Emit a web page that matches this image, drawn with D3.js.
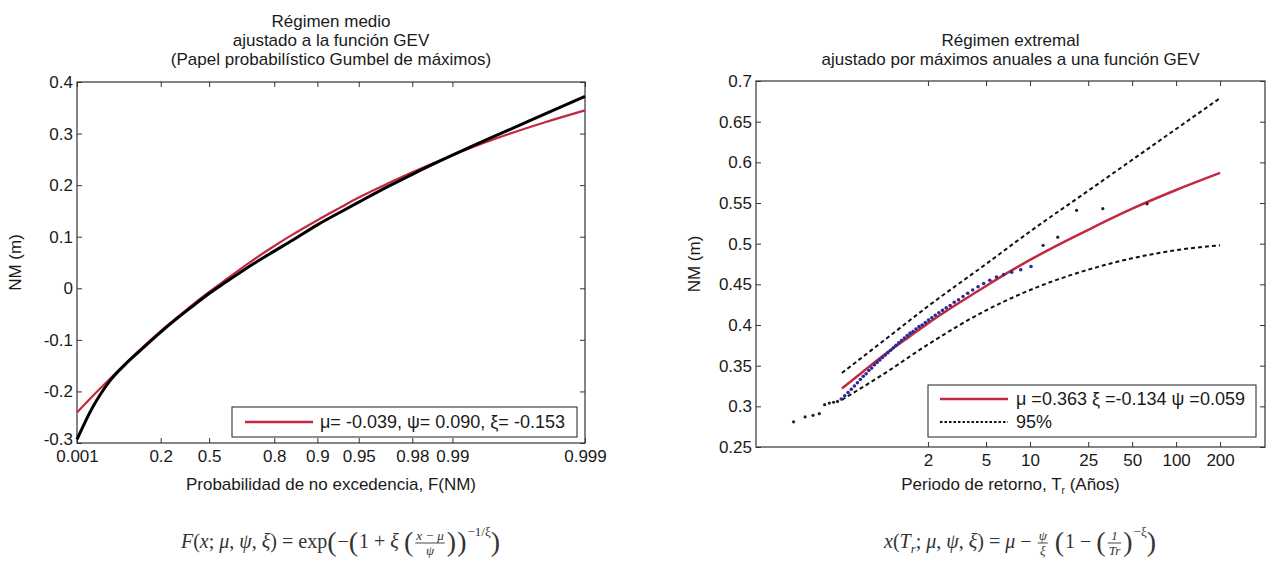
<!DOCTYPE html>
<html><head><meta charset="utf-8">
<script src="https://cdn.jsdelivr.net/npm/d3@7"></script>
<style>
body{margin:0;background:#fff}
.sans{font-family:"Liberation Sans",Arial,Helvetica,sans-serif;fill:#1a1a1a}
.serif{font-family:"Liberation Serif","DejaVu Serif",serif;fill:#333}
</style></head>
<body><svg id="chart" width="1269" height="569"></svg>
<script>
// ---------- DATA : left panel (medium regime, Gumbel probability paper) ----------
const probF   = [0.001,0.005,0.01,0.02,0.05,0.1,0.2,0.3,0.4,0.5,0.6,0.7,0.8,0.85,0.9,0.93,0.95,0.97,0.98,0.99,0.995,0.998,0.999];
const gevFitNM = [-0.241,-0.210,-0.194,-0.176,-0.147,-0.119,-0.083,-0.056,-0.031,-0.007,0.018,0.047,0.082,0.104,0.132,0.155,0.176,0.204,0.225,0.258,0.288,0.322,0.345];
const empiricalNM = [-0.293,-0.232,-0.206,-0.180,-0.148,-0.121,-0.085,-0.058,-0.034,-0.010,0.013,0.040,0.072,0.093,0.123,0.146,0.167,0.198,0.221,0.258,0.293,0.338,0.372];
const leftXTicks  = [0.001,0.2,0.5,0.8,0.9,0.95,0.98,0.99,0.999];
const leftXLabels = ["0.001","0.2","0.5","0.8","0.9","0.95","0.98","0.99","0.999"];
const leftYTicks  = [0.4,0.3,0.2,0.1,0,-0.1,-0.2,-0.3];
const leftYLabels = ["0.4","0.3","0.2","0.1","0","-0.1","-0.2","-0.3"];
const leftTitle   = ["Régimen medio","ajustado a la función GEV","(Papel probabilístico Gumbel de máximos)"];
const leftXTitle  = "Probabilidad de no excedencia, F(NM)";
const leftLegend  = "\u03bc= -0.039, \u03c8= 0.090, \u03be= -0.153";

// ---------- DATA : right panel (extreme regime, annual maxima) ----------
const fitT   = [0.515,0.7,1,1.5,2,3,5,7,10,15,25,50,100,200];
const fitNM  = [0.322,0.341,0.363,0.386,0.402,0.423,0.448,0.464,0.480,0.497,0.517,0.543,0.566,0.587];
const bandT  = [0.515,1,2,5,10,25,50,100,200];
const upperNM = [0.341,0.381,0.423,0.475,0.515,0.565,0.603,0.641,0.679];
const lowerNM = [0.308,0.340,0.376,0.418,0.443,0.468,0.482,0.492,0.498];
const tailT  = [0.2404,0.2885,0.3268,0.3607,0.3922,0.4225,0.4519,0.4809,12.285,15.48,20.83,31.5,63.3];
const tailNM = [0.281,0.287,0.289,0.291,0.302,0.304,0.305,0.306,0.498,0.508,0.541,0.543,0.549];
const bodyT  = [0.5098,0.5387,0.5679,0.5974,0.6274,0.6580,0.6893,0.7213,0.7543,0.7883,0.8234,0.8597,0.8973,0.9364,0.9771,1.0196,1.0638,1.1101,1.1586,1.2096,1.2633,1.3198,1.3795,1.4427,1.5097,1.5810,1.6567,1.7379,1.8248,1.9183,2.0190,2.1277,2.2457,2.3742,2.5145,2.6688,2.8393,3.0276,3.2383,3.4758,3.7439,4.0502,4.4033,4.8146,5.3022,5.8858,6.5963,7.4906,8.6356,10.152];
const bodyNM = [0.309,0.313,0.317,0.321,0.325,0.329,0.333,0.337,0.340,0.344,0.347,0.351,0.354,0.357,0.360,0.363,0.366,0.369,0.372,0.375,0.378,0.381,0.384,0.387,0.390,0.392,0.395,0.398,0.400,0.403,0.406,0.409,0.412,0.415,0.418,0.421,0.424,0.428,0.431,0.435,0.439,0.443,0.447,0.451,0.455,0.459,0.462,0.465,0.468,0.472];
const rightXTicks = [2,5,10,25,50,100,200];
const rightXLabels = ["2","5","10","25","50","100","200"];
const rightYTicks = [0.7,0.65,0.6,0.55,0.5,0.45,0.4,0.35,0.3,0.25];
const rightYLabels = ["0.7","0.65","0.6","0.55","0.5","0.45","0.4","0.35","0.3","0.25"];
const rightTitle = ["Régimen extremal","ajustado por máximos anuales a una función GEV"];
const rightLegend = ["\u03bc =0.363 \u03be =-0.134 \u03c8 =0.059","95%"];

// ---------- DRAWING ----------
const svg = d3.select("#chart");
svg.append("rect").attr("width",1269).attr("height",569).attr("fill","#fff");
const RED = "#c4283f";
const FS = 17, LFS = 18;
const NB = "\u00a0";

const gumbel = F => -Math.log(-Math.log(F));

const L = {x0:77, x1:585, y0:82, y1:443};
const xG = d3.scaleLinear().domain([gumbel(0.001), gumbel(0.999)]).range([L.x0, L.x1]);
const xL = F => xG(gumbel(F));
const yL = d3.scaleLinear().domain([-0.3,0.4]).range([L.y1, L.y0]);

const R = {x0:756, x1:1265, y0:81, y1:447};
const xR = d3.scaleLog().domain([0.133,406]).range([R.x0, R.x1]);
const yR = d3.scaleLinear().domain([0.25,0.7]).range([R.y1, R.y0]);

function frame(P, xScale, xVals, xLabels, yScale, yVals, yLabels){
  const g = svg.append("g");
  const styleAx = a => { a.select(".domain").remove(); a.attr("font-family",null).attr("font-size",null);
    a.selectAll("line").attr("stroke","#333");
    a.selectAll("text").attr("class","sans").attr("font-size",FS); };
  g.append("g").attr("transform",`translate(0,${P.y1})`)
    .call(d3.axisBottom(xScale).tickValues(xVals).tickFormat((d,i)=>xLabels[i]).tickSizeInner(-5).tickSizeOuter(0).tickPadding(7)).call(styleAx);
  g.append("g").attr("transform",`translate(0,${P.y0})`)
    .call(d3.axisTop(xScale).tickValues(xVals).tickFormat("").tickSizeInner(-5).tickSizeOuter(0)).call(styleAx);
  g.append("g").attr("transform",`translate(${P.x0},0)`)
    .call(d3.axisLeft(yScale).tickValues(yVals).tickFormat((d,i)=>yLabels[i]).tickSizeInner(-5).tickSizeOuter(0).tickPadding(4)).call(styleAx);
  g.append("g").attr("transform",`translate(${P.x1},0)`)
    .call(d3.axisRight(yScale).tickValues(yVals).tickFormat("").tickSizeInner(-5).tickSizeOuter(0)).call(styleAx);
  g.append("rect").attr("x",P.x0).attr("y",P.y0).attr("width",P.x1-P.x0).attr("height",P.y1-P.y0)
    .attr("fill","none").attr("stroke","#333").attr("stroke-width",1.2);
  return g;
}

function titles(lines, cx, firstBase){
  lines.forEach((s,i)=> svg.append("text").attr("class","sans").attr("x",cx).attr("y",firstBase+i*19)
    .attr("text-anchor","middle").attr("font-size",FS).text(s));
}

// ---------- LEFT ----------
const fl = frame(L, xG, leftXTicks.map(gumbel), leftXLabels, yL, leftYTicks, leftYLabels);
fl.selectAll("text").filter(function(){return this.textContent==="-0.3";}).attr("dy","0.1em");
titles(leftTitle, (L.x0+L.x1)/2, 27);
svg.append("text").attr("class","sans").attr("x",(L.x0+L.x1)/2).attr("y",490).attr("text-anchor","middle").attr("font-size",FS)
  .text(leftXTitle);
svg.append("text").attr("class","sans").attr("transform",`translate(${L.x0-56},${(L.y0+L.y1)/2}) rotate(-90)`).attr("text-anchor","middle").attr("font-size",FS).text("NM (m)");

const lineL = d3.line().x(d=>xL(d[0])).y(d=>yL(d[1])).curve(d3.curveMonotoneX);
svg.append("path").attr("d", lineL(probF.map((f,i)=>[f,gevFitNM[i]])))
  .attr("fill","none").attr("stroke",RED).attr("stroke-width",2.2);
svg.append("path").attr("d", lineL(probF.map((f,i)=>[f,empiricalNM[i]])))
  .attr("fill","none").attr("stroke","#000").attr("stroke-width",3);

const lg = svg.append("g");
lg.append("rect").attr("x",232).attr("y",407).attr("width",345).attr("height",30).attr("fill","#fff").attr("stroke","#333").attr("stroke-width",1.1);
lg.append("line").attr("x1",245).attr("x2",313).attr("y1",422).attr("y2",422).attr("stroke",RED).attr("stroke-width",2.5);
lg.append("text").attr("class","sans").attr("x",320).attr("y",428).attr("font-size",LFS).text(leftLegend);

// ---------- RIGHT ----------
frame(R, xR, rightXTicks, rightXLabels, yR, rightYTicks, rightYLabels);
titles(rightTitle, (R.x0+R.x1)/2, 46);
const xt = svg.append("text").attr("class","sans").attr("x",(R.x0+R.x1)/2).attr("y",490).attr("text-anchor","middle").attr("font-size",FS);
xt.append("tspan").text("Periodo de retorno, T");
xt.append("tspan").attr("font-size",10).attr("dy",4).text("r");
xt.append("tspan").attr("dy",-4).text(NB+"(Años)");
svg.append("text").attr("class","sans").attr("transform",`translate(${R.x0-56},${(R.y0+R.y1)/2}) rotate(-90)`).attr("text-anchor","middle").attr("font-size",FS).text("NM (m)");

const lineR = d3.line().x(d=>xR(d[0])).y(d=>yR(d[1])).curve(d3.curveMonotoneX);
svg.append("path").attr("d", lineR(fitT.map((t,i)=>[t,fitNM[i]])))
  .attr("fill","none").attr("stroke",RED).attr("stroke-width",2.5);
[upperNM, lowerNM].forEach(arr=>{
  svg.append("path").attr("d", lineR(bandT.map((t,i)=>[t,arr[i]])))
    .attr("fill","none").attr("stroke","#111").attr("stroke-width",2).attr("stroke-dasharray","4,3");
});
svg.append("g").selectAll("circle").data(bodyT.map((t,i)=>[t,bodyNM[i]])).join("circle")
  .attr("cx",d=>xR(d[0])).attr("cy",d=>yR(d[1])).attr("r",1.8).attr("fill","#2a2a9a");
svg.append("g").selectAll("circle").data(tailT.map((t,i)=>[t,tailNM[i]])).join("circle")
  .attr("cx",d=>xR(d[0])).attr("cy",d=>yR(d[1])).attr("r",1.6).attr("fill","#222");

const rg = svg.append("g");
rg.append("rect").attr("x",928).attr("y",385).attr("width",328).attr("height",52).attr("fill","#fff").attr("stroke","#333").attr("stroke-width",1.1);
rg.append("line").attr("x1",940).attr("x2",1008).attr("y1",399).attr("y2",399).attr("stroke",RED).attr("stroke-width",2.5);
rg.append("text").attr("class","sans").attr("x",1016).attr("y",405).attr("font-size",LFS).text(rightLegend[0]);
rg.append("line").attr("x1",940).attr("x2",1008).attr("y1",422).attr("y2",422).attr("stroke","#111").attr("stroke-width",2).attr("stroke-dasharray","2.5,2");
rg.append("text").attr("class","sans").attr("x",1016).attr("y",428).attr("font-size",LFS).text(rightLegend[1]);

// ---------- FORMULAS ----------
function formula(cx, base, parts){
  const g = svg.append("g");
  let x = 0;
  const put = (s, xx, yy, size, it) => g.append("text").attr("class","serif").attr("x",xx).attr("y",yy).attr("font-size",size)
     .attr("font-style",it?"italic":null).text(s.replace(/ /g,NB));
  for(const p of parts){
    if(p.frac){
      const n = put(p.frac[0],0,base-8,13,true), d = put(p.frac[1],0,base+7,13,true);
      const wn = n.node().getComputedTextLength(), wd = d.node().getComputedTextLength();
      const w = Math.max(wn, wd) + 2;
      n.attr("x", x + (w - wn)/2 + 1);
      d.attr("x", x + (w - wd)/2 + 1);
      g.append("line").attr("x1",x+1).attr("x2",x+w+1).attr("y1",base-5).attr("y2",base-5).attr("stroke","#333").attr("stroke-width",0.9);
      x += w + 3;
    } else {
      const size = p.big ? 28 : (p.sup||p.sub ? 13 : 20);
      const yy = base + (p.sup ? -12 : 0) + (p.sub ? 5 : 0) + (p.big ? 3 : 0);
      const t = put(p.s, x, yy, size, p.it);
      x += t.node().getComputedTextLength() + (p.big ? 1 : 0);
    }
  }
  g.attr("transform",`translate(${cx - x/2},0)`);
}
formula((L.x0+L.x1)/2 + 10, 548, [
  {s:"F",it:1},{s:"("},{s:"x",it:1},{s:"; "},{s:"\u03bc",it:1},{s:", "},{s:"\u03c8",it:1},{s:", "},{s:"\u03be",it:1},{s:") = exp"},
  {s:"(",big:1},{s:"\u2212"},{s:"(",big:1},{s:"1 + "},{s:"\u03be",it:1},{s:" "},{s:"(",big:1},{frac:["x \u2212 \u03bc","\u03c8"]},{s:")",big:1},{s:")",big:1},
  {s:"\u22121/\u03be",sup:1},{s:")",big:1}
]);
formula((R.x0+R.x1)/2 + 10, 548, [
  {s:"x",it:1},{s:"("},{s:"T",it:1},{s:"r",sub:1,it:1},{s:"; "},{s:"\u03bc",it:1},{s:", "},{s:"\u03c8",it:1},{s:", "},{s:"\u03be",it:1},{s:") = "},
  {s:"\u03bc",it:1},{s:" \u2212 "},{frac:["\u03c8","\u03be"]},{s:" "},{s:"(",big:1},{s:"1 \u2212 "},{s:"(",big:1},{frac:["1","Tr"]},{s:")",big:1},{s:"\u2212\u03be",sup:1},{s:")",big:1}
]);
</script>
</body></html>
